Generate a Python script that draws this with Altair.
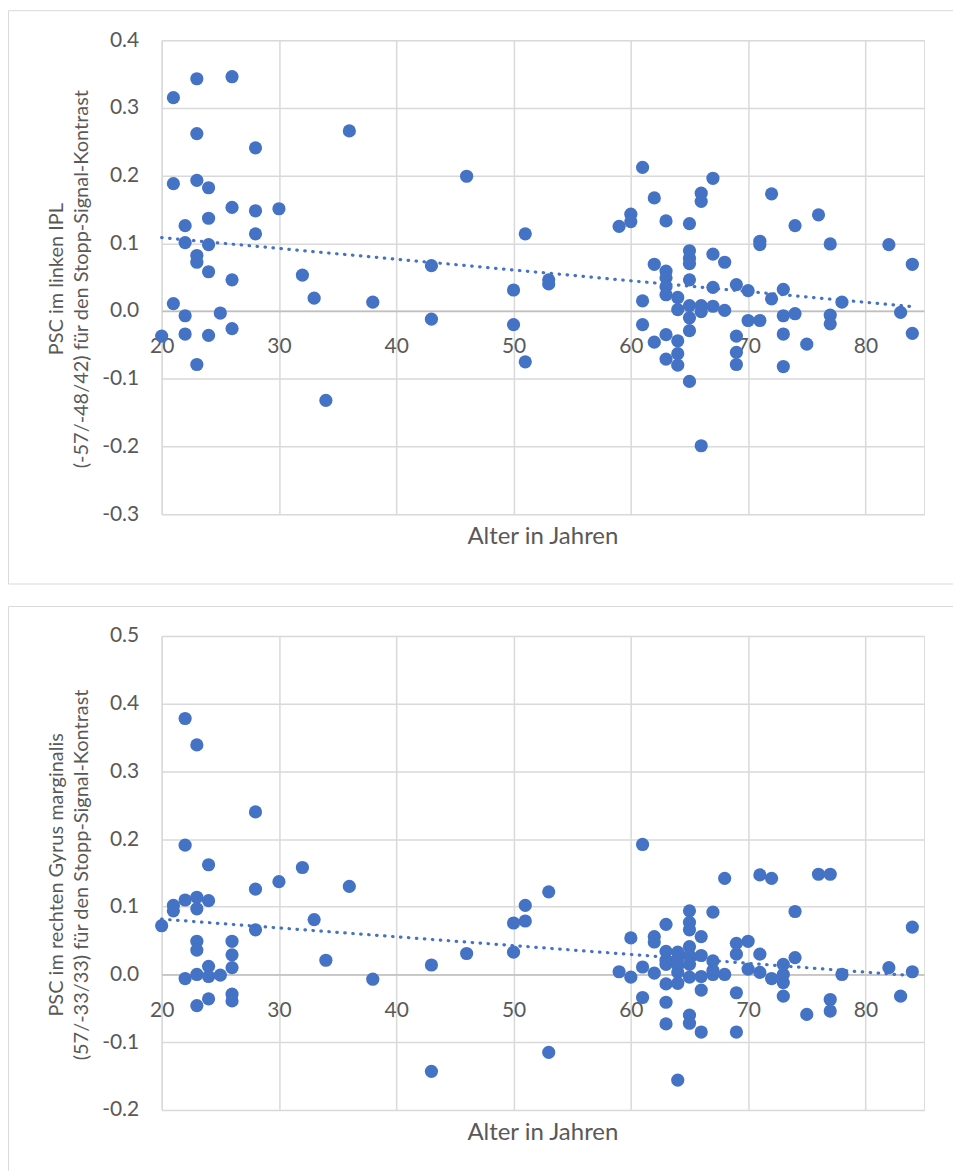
import altair as alt
import pandas as pd

# PSC in the left IPL (-57/-48/42), stop-signal contrast, by age
ipl_age = [21, 23, 26, 23, 36, 28, 21, 23, 24, 26, 28, 30, 24, 22, 28, 22, 24, 23, 23, 24,
           26, 32, 33, 38, 21, 22, 25, 22, 24, 26, 20, 23, 34, 46, 51, 43, 50, 53, 53, 43,
           50, 51, 61, 67, 66, 66, 62, 60, 60, 59, 63, 65, 65, 65, 65, 67, 68, 62, 63, 63,
           63, 63, 65, 67, 69, 70, 61, 64, 64, 65, 66, 66, 67, 68, 65, 70, 61, 65, 63, 62,
           64, 64, 63, 64, 69, 69, 69, 65, 66, 72, 76, 74, 71, 71, 77, 82, 84, 73, 72, 78,
           83, 71, 73, 74, 77, 77, 73, 75, 84, 73]
ipl_psc = [0.315, 0.343, 0.346, 0.262, 0.266, 0.241, 0.188, 0.193, 0.182, 0.153, 0.148, 0.151,
           0.137, 0.126, 0.114, 0.101, 0.098, 0.082, 0.072, 0.058, 0.046, 0.053, 0.019, 0.013,
           0.011, -0.007, -0.003, -0.034, -0.036, -0.026, -0.037, -0.079, -0.132, 0.199, 0.114,
           0.067, 0.031, 0.046, 0.040, -0.012, -0.020, -0.075, 0.212, 0.196, 0.174, 0.162, 0.167,
           0.143, 0.132, 0.125, 0.133, 0.129, 0.089, 0.078, 0.070, 0.084, 0.072, 0.069, 0.059,
           0.049, 0.036, 0.024, 0.046, 0.035, 0.039, 0.030, 0.015, 0.020, 0.002, 0.008, 0.008,
           -0.001, 0.007, 0.001, -0.010, -0.014, -0.020, -0.029, -0.035, -0.046, -0.044, -0.063,
           -0.071, -0.080, -0.037, -0.061, -0.079, -0.104, -0.199, 0.173, 0.142, 0.126, 0.103,
           0.098, 0.099, 0.098, 0.069, 0.032, 0.018, 0.013, -0.002, -0.014, -0.007, -0.004,
           -0.006, -0.019, -0.034, -0.049, -0.033, -0.082]

# PSC in the right supramarginal gyrus (57/-33/33), stop-signal contrast, by age
smg_age = [22, 23, 28, 22, 24, 32, 30, 36, 28, 22, 23, 24, 21, 21, 23, 20, 33, 28, 23, 23,
           26, 26, 26, 34, 24, 22, 23, 24, 25, 38, 23, 24, 26, 26, 53, 51, 50, 51, 46, 50,
           43, 53, 43, 61, 68, 71, 65, 67, 63, 65, 65, 66, 60, 62, 62, 69, 70, 63, 65, 69,
           64, 66, 63, 63, 64, 64, 65, 65, 67, 67, 61, 59, 60, 62, 64, 65, 66, 67, 68, 70,
           63, 64, 66, 69, 61, 63, 65, 65, 63, 66, 69, 64, 72, 76, 77, 74, 84, 71, 74, 73,
           71, 72, 73, 73, 73, 78, 82, 84, 83, 77, 77, 75]
smg_psc = [0.378, 0.339, 0.240, 0.191, 0.162, 0.158, 0.137, 0.130, 0.126, 0.110, 0.114, 0.109,
           0.102, 0.094, 0.097, 0.072, 0.081, 0.066, 0.049, 0.036, 0.049, 0.029, 0.010, 0.021,
           0.012, -0.006, 0.000, -0.003, -0.001, -0.007, -0.046, -0.036, -0.029, -0.039, 0.122,
           0.102, 0.076, 0.079, 0.031, 0.033, 0.014, -0.115, -0.143, 0.192, 0.142, 0.147, 0.094,
           0.092, 0.074, 0.077, 0.066, 0.056, 0.054, 0.056, 0.048, 0.046, 0.049, 0.034, 0.041,
           0.030, 0.033, 0.028, 0.021, 0.015, 0.023, 0.013, 0.028, 0.015, 0.020, 0.006, 0.011,
           0.004, -0.004, 0.002, 0.003, -0.004, -0.003, 0.000, 0.000, 0.008, -0.014, -0.013,
           -0.023, -0.027, -0.034, -0.041, -0.060, -0.072, -0.073, -0.085, -0.085, -0.156,
           0.142, 0.148, 0.148, 0.093, 0.070, 0.030, 0.025, 0.015, 0.003, -0.006, 0.000, -0.012,
           -0.032, 0.000, 0.010, 0.004, -0.032, -0.037, -0.054, -0.059]

x_ticks = [20, 30, 40, 50, 60, 70, 80]
ipl_ticks = [-0.3, -0.2, -0.1, 0.0, 0.1, 0.2, 0.3, 0.4]
smg_ticks = [-0.2, -0.1, 0.0, 0.1, 0.2, 0.3, 0.4, 0.5]

ipl_title = ["PSC im linken IPL", "(-57/-48/42) für den Stopp-Signal-Kontrast"]
smg_title = ["PSC im rechten Gyrus marginalis", "(57/-33/33) für den Stopp-Signal-Kontrast"]
x_title = "Alter in Jahren"

BLUE = "#4472C4"
GRID = "#d9d9d9"
AXIS_LINE = "#bfbfbf"
TEXT = "#595959"
FONT = "Lato"
W, H = 764, 475
ONE = alt.Data(values=[{}])


def text_layer(txt, x, y, size, angle=0):
    return alt.Chart(ONE).mark_text(
        font=FONT, fontSize=size, color=TEXT, align="center", baseline="middle", angle=angle
    ).encode(x=alt.value(x), y=alt.value(y), text=alt.value(txt))


def panel(ages, vals, y_domain, y_ticks, y_title, bottom_edge, frame_bottom):
    df = pd.DataFrame({"age": ages, "psc": vals})
    # the horizontal axis sits on the zero line
    zero_offset = -H * (0 - y_domain[0]) / (y_domain[1] - y_domain[0])

    x = alt.X(
        "age:Q",
        scale=alt.Scale(domain=[20, 85], nice=False, zero=False),
        axis=alt.Axis(
            values=x_ticks, title=None, offset=zero_offset, ticks=False,
            domainColor=AXIS_LINE, domainWidth=1.5, labelPadding=25, labelFlush=False,
            labelFontSize=21, labelColor=TEXT, labelFont=FONT,
            grid=True, gridColor=GRID, gridWidth=1.5,
        ),
    )
    y = alt.Y(
        "psc:Q",
        scale=alt.Scale(domain=y_domain, nice=False, zero=False),
        axis=alt.Axis(
            values=y_ticks,
            labelExpr="datum.value < 0 ? '-' + format(-datum.value, '.1f') : format(datum.value, '.1f')",
            ticks=False, domain=False, labelPadding=23, labelFlush=False,
            labelFontSize=21, labelColor=TEXT, labelFont=FONT,
            grid=True, gridColor=GRID, gridWidth=1.5, title=None,
        ),
    )

    frame_top = alt.Chart(ONE).mark_rule(color=GRID, strokeWidth=1).encode(
        x=alt.value(-153.5), x2=alt.value(793), y=alt.value(-29.5))
    frame_left = alt.Chart(ONE).mark_rule(color=GRID, strokeWidth=1).encode(
        x=alt.value(-153.5), y=alt.value(-29.5), y2=alt.value(frame_bottom))
    layers = [frame_top, frame_left]
    if bottom_edge:
        layers.append(alt.Chart(ONE).mark_rule(color=GRID, strokeWidth=1).encode(
            x=alt.value(-153.5), x2=alt.value(793), y=alt.value(frame_bottom)))

    points = alt.Chart(df).mark_circle(size=175, color=BLUE, opacity=1).encode(x=x, y=y)
    trend = (
        alt.Chart(df)
        .transform_regression("age", "psc")
        .mark_line(color=BLUE, strokeWidth=3.2, strokeDash=[0.5, 7.5], strokeCap="round")
        .encode(x="age:Q", y="psc:Q")
    )
    titles = [
        text_layer(x_title, W / 2, H + 23, 24),
        text_layer(y_title[0], -105, H / 2 + 2, 20, angle=270),
        text_layer(y_title[1], -80, H / 2 + 2, 20, angle=270),
    ]

    return alt.layer(*layers, points, trend, *titles).properties(width=W, height=H)


top = panel(ipl_age, ipl_psc, [-0.3, 0.4], ipl_ticks, ipl_title, True, H + 70)
bottom = panel(smg_age, smg_psc, [-0.2, 0.5], smg_ticks, smg_title, False, 536)

chart = (
    alt.vconcat(top, bottom, spacing=20)
    .properties(padding={"left": 7, "top": 8, "right": 0, "bottom": 0})
    .configure_view(stroke=None)
    .configure(background="white")
)

chart.save("out.html", embed_options={"renderer": "svg", "actions": False})
